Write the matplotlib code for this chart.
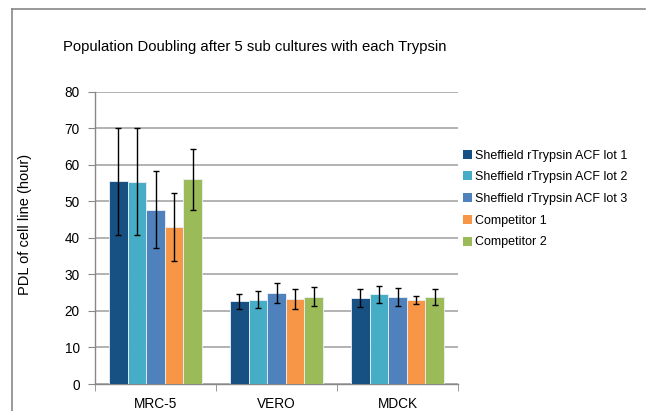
import matplotlib
matplotlib.use("Agg")
import matplotlib.pyplot as plt
import numpy as np
from matplotlib.patches import Rectangle
from matplotlib.lines import Line2D

plt.rcParams['font.family'] = ['Liberation Sans', 'DejaVu Sans']

categories = ["MRC-5", "VERO", "MDCK"]
series = ["Sheffield rTrypsin ACF lot 1", "Sheffield rTrypsin ACF lot 2",
          "Sheffield rTrypsin ACF lot 3", "Competitor 1", "Competitor 2"]
values = [
    [55.5, 22.6, 23.5],
    [55.4, 23.1, 24.5],
    [47.7, 24.9, 23.8],
    [42.9, 23.2, 23.1],
    [56.0, 23.9, 23.9],
]
errors = [
    [14.6, 2.1, 2.5],
    [14.7, 2.4, 2.2],
    [10.6, 2.8, 2.5],
    [9.3, 2.8, 1.1],
    [8.4, 2.6, 2.2],
]
colors = ["#175082", "#45AEC6", "#4F81BD", "#F79646", "#9BBB59"]
yticks = [0, 10, 20, 30, 40, 50, 60, 70, 80]

W, H = 646, 411
fig = plt.figure(figsize=(W / 100, H / 100), dpi=100)

# outer chart frame
fig.add_artist(Line2D([11.5 / W, 11.5 / W], [0, 1 - 9.5 / H], color="#888888", lw=1.2))
fig.add_artist(Line2D([11.5 / W, 645 / W], [1 - 9.5 / H, 1 - 9.5 / H], color="#888888", lw=1.2))

ax = fig.add_axes([95 / W, (H - 384) / H, (458 - 95) / W, (384 - 91.7) / H])

x = np.arange(len(categories))
bw = 0.153
for i, (name, vals, errs, c) in enumerate(zip(series, values, errors, colors)):
    pos = x + (i - 2) * bw
    ax.bar(pos, vals, width=bw, color=c, edgecolor="#EAF1F7", linewidth=0.6,
           label=name, zorder=3)
    ax.errorbar(pos, vals, yerr=errs, fmt="none", ecolor="black", elinewidth=1.0,
                capsize=2.5, capthick=1.0, zorder=4)

ax.set_xlim(-0.5, 2.5)
ax.set_ylim(0, 80)
ax.set_yticks(yticks)
ax.set_yticklabels([str(t) for t in yticks], fontsize=9.8)
ax.set_xticks(x)
ax.set_xticklabels(categories, fontsize=9.8)
ax.set_xticks([-0.5, 0.5, 1.5, 2.5], minor=True)
ax.tick_params(axis="x", which="major", length=0, pad=9)
ax.tick_params(axis="x", which="minor", length=5, color="#888888", direction="out")
ax.tick_params(axis="y", length=5, color="#888888", pad=6, direction="out")
ax.grid(axis="y", color="#A6A6A6", linewidth=1.2, zorder=0)
ax.set_axisbelow(True)
for s in ["top", "right"]:
    ax.spines[s].set_visible(False)
for s in ["left", "bottom"]:
    ax.spines[s].set_color("#888888")
    ax.spines[s].set_linewidth(1.0)

fig.text(254.5 / W, 1 - 47.5 / H, "Population Doubling after 5 sub cultures with each Trypsin",
         ha="center", va="center", fontsize=10.7)
fig.text(25 / W, 1 - 224 / H, "PDL of cell line (hour)", rotation=90,
         ha="center", va="center", fontsize=10.5)

handles = [Rectangle((0, 0), 1, 1, facecolor=c, edgecolor="none") for c in colors]
leg = fig.legend(handles, series, loc="upper left", bbox_to_anchor=(463 / W, 1 - 149.5 / H),
                 frameon=False, fontsize=9.0, handlelength=0.75, handleheight=0.75,
                 handletextpad=0.2, labelspacing=0.78, borderaxespad=0, borderpad=0)

fig.savefig("out.png", dpi=100)
